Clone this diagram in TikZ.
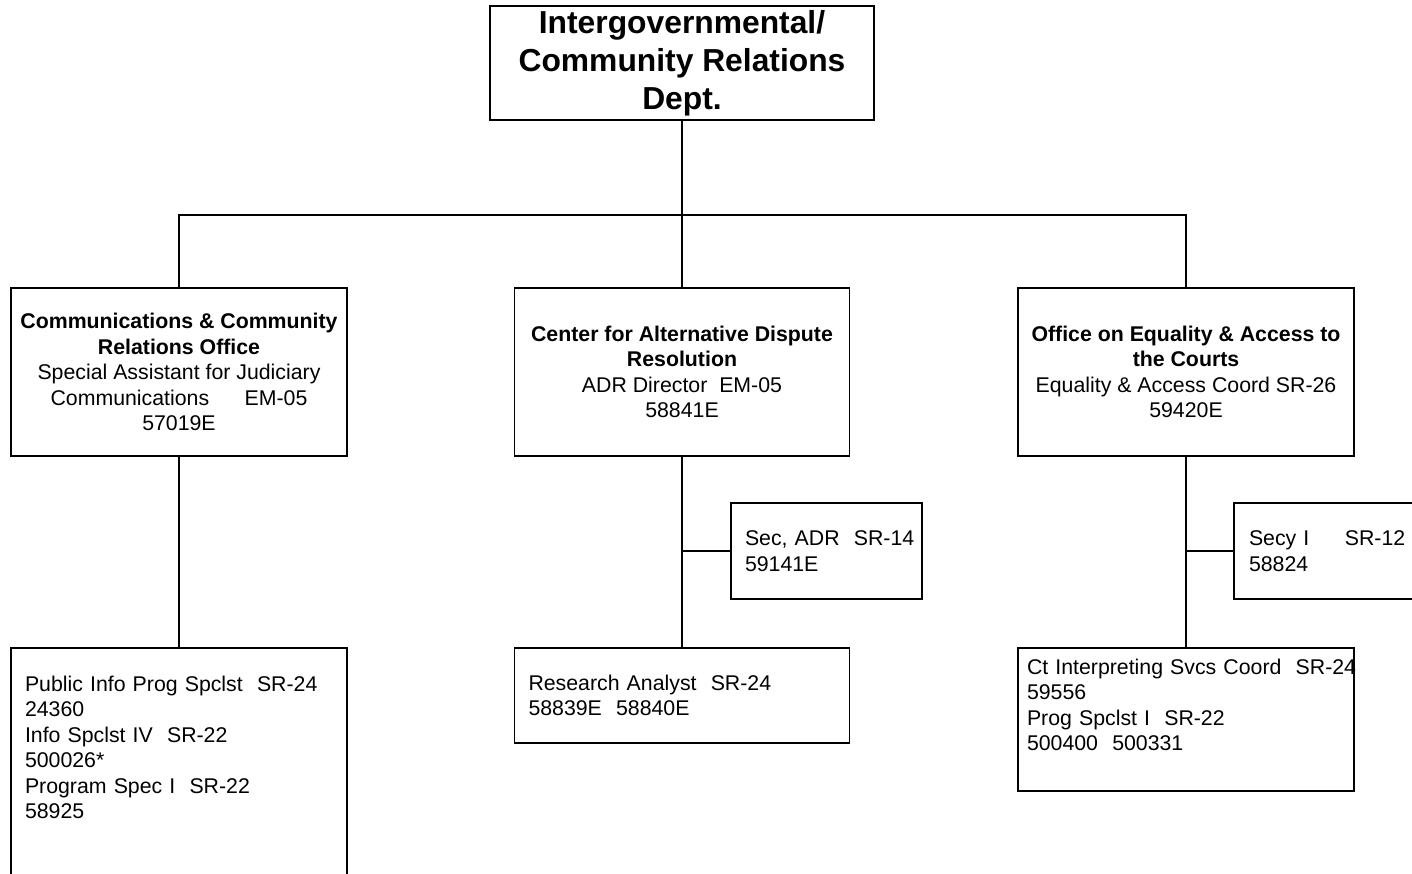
\documentclass[tikz,border=0pt]{standalone}
\usepackage{fontspec}
\setmainfont{Liberation Sans}
\exhyphenpenalty=10000
\hyphenpenalty=10000

\begin{document}
\begin{tikzpicture}[x=1pt, y=-1pt,
  box/.style={draw, line width=1.8pt, inner sep=0pt, align=center, font=\fontsize{21.3}{25.5}\selectfont},
  listbox/.style={draw, line width=1.8pt, inner xsep=14pt, inner ysep=0pt, align=left, font=\fontsize{21.3}{25.5}\selectfont},
  link/.style={line width=1.1pt}]
\useasboundingbox (0,0) rectangle (1412,873);
\clip (0,0) rectangle (1412,873);
% top of the chart
\node[box, minimum width=384pt, minimum height=114pt, font=\fontsize{31.8}{38}\selectfont\bfseries] (dept) at (682,63) {Intergovernmental/\\Community Relations\\Dept.\rule[-4pt]{0pt}{0pt}};
% the three offices
\node[box, minimum width=336pt, minimum height=168pt] (comm) at (179,372) {\textbf{Communications \& Community}\\\textbf{Relations Office}\\Special Assistant for Judiciary\\Communications~~~~~~EM-05\\57019E};
\node[box, minimum width=335pt, minimum height=168pt] (adr) at (682,372) {\textbf{Center for Alternative Dispute}\\\textbf{Resolution}\\ADR Director~~EM-05\\58841E};
\node[box, minimum width=336pt, minimum height=168pt] (eq) at (1186,372) {\textbf{Office on Equality \& Access to}\\\textbf{the Courts}\\Equality \& Access Coord SR-26\\59420E};
% staff
\node[listbox, text width=308pt, minimum height=272pt, text depth=201pt] (pubinfo) at (179,784) {Public~Info~Prog~Spclst~~SR-24\\24360\\Info~Spclst~IV~~SR-22\\500026*\\Program~Spec~I~~SR-22\\58925};
\node[listbox, text width=163pt, minimum height=96pt] (sec) at (826.5,551) {Sec,~ADR~~SR-14\\59141E};
\node[listbox, text width=307pt, minimum height=95pt] (research) at (682,695.5) {Research~Analyst~~SR-24\\58839E~~58840E};
\node[listbox, inner xsep=15pt, text width=161pt, minimum height=96pt] (secy) at (1329.5,551) {Secy~I~~~~~SR-12\\58824};
\node[listbox, inner xsep=9pt, text width=318pt, minimum height=143pt, text depth=106pt] (interp) at (1186,719.5) {Ct~Interpreting~Svcs~Coord~~SR-24\\59556\\Prog~Spclst~I~~SR-22\\500400~~500331};
% connectors
\coordinate (bus) at (682,215);
\draw[link] (dept) -- (adr);
\draw[link] (comm.north) |- (bus) -| (eq.north);
\draw[link] (comm) -- (pubinfo);
\draw[link] (adr) -- (research);
\draw[link] (adr.south |- sec.west) -- (sec.west);
\draw[link] (eq) -- (interp);
\draw[link, line width=2pt] (eq.south |- secy.west) -- (secy.west);
\end{tikzpicture}
\end{document}
